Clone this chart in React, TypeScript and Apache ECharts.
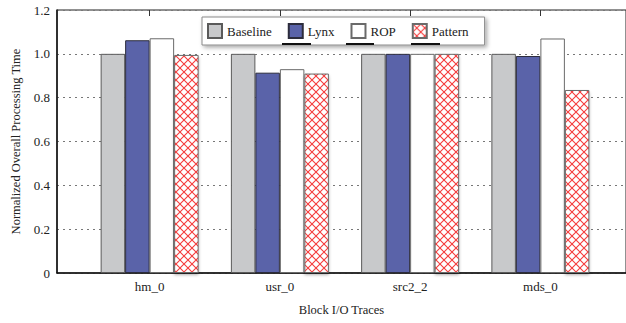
import React, { useEffect, useRef } from "react";
import * as echarts from "echarts";

const categories = ["hm_0", "usr_0", "src2_2", "mds_0"];
const seriesNames = ["Baseline", "Lynx", "ROP", "Pattern"];
const baseline = [1.0, 1.0, 1.0, 1.0];
const lynx = [1.062, 0.914, 1.0, 0.99];
const rop = [1.071, 0.93, 1.0, 1.07];
const pattern = [0.995, 0.91, 1.0, 0.835];
const yTicks = [0, 0.2, 0.4, 0.6, 0.8, 1.0, 1.2];

const FONT = "'Liberation Serif', 'Times New Roman', Times, serif";

function makeHatch() {
  const c = document.createElement("canvas");
  c.width = 8;
  c.height = 8;
  const ctx = c.getContext("2d")!;
  ctx.fillStyle = "#ffffff";
  ctx.fillRect(0, 0, 8, 8);
  ctx.strokeStyle = "#f53b3b";
  ctx.lineWidth = 1.1;
  ctx.beginPath();
  ctx.moveTo(0, 0);
  ctx.lineTo(8, 8);
  ctx.moveTo(8, 0);
  ctx.lineTo(0, 8);
  ctx.stroke();
  return { image: c.toDataURL(), repeat: "repeat", imageWidth: 8, imageHeight: 8 } as any;
}

export default function App() {
  const ref = useRef<HTMLDivElement>(null);
  useEffect(() => {
    const chart = echarts.init(ref.current!, null, { renderer: "svg" });
    const hatch = makeHatch();
    const styles = [
      { color: "#c8c9cb", borderColor: "#5a5a5a", borderWidth: 1 },
      { color: "#5a63a9", borderColor: "#2c2c3c", borderWidth: 1 },
      { color: "#ffffff", borderColor: "#6a6a6a", borderWidth: 1 },
      {
        color: hatch,
        borderColor: "#6a6a6a",
        borderWidth: 1,
        shadowColor: "rgba(0,0,0,0.3)",
        shadowBlur: 3,
        shadowOffsetY: 2,
      },
    ];
    const datas = [baseline, lynx, rop, pattern];
    chart.setOption({
      animation: false,
      textStyle: { fontFamily: FONT },
      grid: [
        {
          left: 57,
          right: -3,
          top: 10,
          bottom: 50,
          show: true,
          borderColor: "#222",
          borderWidth: 1,
        },
        { left: 84.5, right: 20.5, top: 10, bottom: 50 },
      ],
      xAxis: [
        {
          gridIndex: 0,
          type: "value",
          min: 0,
          max: 1,
          axisLine: { show: true, lineStyle: { color: "#111", width: 1.5 } },
          axisTick: { show: false },
          axisLabel: { show: false },
          splitLine: { show: false },
          name: "Block I/O Traces",
          nameLocation: "middle",
          nameGap: 30,
          nameTextStyle: { fontFamily: FONT, fontSize: 12.5, color: "#222" },
        },
        {
          gridIndex: 1,
          type: "category",
          data: categories,
          axisLine: { show: false },
          axisTick: { show: false },
          axisLabel: { fontFamily: FONT, fontSize: 13, color: "#222", margin: 7 },
        },
        {
          gridIndex: 1,
          type: "category",
          position: "top",
          data: categories,
          axisLine: { show: false },
          axisTick: {
            show: true,
            inside: true,
            alignWithLabel: true,
            length: 6,
            lineStyle: { color: "#333", width: 1 },
          },
          axisLabel: { show: false },
        },
      ],
      yAxis: [
        {
          gridIndex: 0,
          type: "value",
          min: 0,
          max: 1.2,
          interval: 0.2,
          axisLine: { show: true, lineStyle: { color: "#111", width: 1.5 } },
          axisTick: { show: false },
          axisLabel: {
            fontFamily: FONT,
            fontSize: 13,
            color: "#222",
            margin: 7,
            formatter: (v: number) => {
              const t = yTicks.find((x) => Math.abs(x - v) < 1e-6);
              return t === 0 ? "0" : (t ?? v).toFixed(1);
            },
          },
          splitLine: { show: true, lineStyle: { color: "#777", type: [2, 4], width: 1 } },
          name: "Normalized Overall Processing Time",
          nameLocation: "middle",
          nameGap: 34,
          nameTextStyle: { fontFamily: FONT, fontSize: 12.5, color: "#222" },
        },
        {
          gridIndex: 1,
          type: "value",
          min: 0,
          max: 1.2,
          interval: 0.2,
          show: false,
        },
      ],
      legend: {
        left: 202,
        top: 17,
        orient: "horizontal",
        icon: "rect",
        itemWidth: 14,
        itemHeight: 14,
        itemGap: 16,
        padding: [6, 16, 6, 5],
        backgroundColor: "#ffffff",
        borderColor: "#8a8a8a",
        borderWidth: 1,
        shadowColor: "rgba(0,0,0,0.35)",
        shadowBlur: 4,
        shadowOffsetX: 2,
        shadowOffsetY: 2,
        textStyle: { fontFamily: FONT, fontSize: 13, color: "#222" },
        data: seriesNames,
      },
      graphic: [
        { type: "line", z: 100, shape: { x1: 282, y1: 44, x2: 311, y2: 44 }, style: { stroke: "#111", lineWidth: 2 } },
        { type: "line", z: 100, shape: { x1: 346, y1: 44, x2: 374, y2: 44 }, style: { stroke: "#111", lineWidth: 2 } },
        { type: "line", z: 100, shape: { x1: 411, y1: 44, x2: 440, y2: 44 }, style: { stroke: "#111", lineWidth: 2 } },
      ],
      series: seriesNames.map((name, i) => ({
        name,
        type: "bar",
        xAxisIndex: 1,
        yAxisIndex: 1,
        data: datas[i],
        barWidth: 24.5,
        barGap: "0%",
        itemStyle: styles[i],
      })),
    });
    return () => chart.dispose();
  }, []);
  return <div ref={ref} style={{ width: 626, height: 323, position: "absolute", left: 0, top: 0 }} />;
}
